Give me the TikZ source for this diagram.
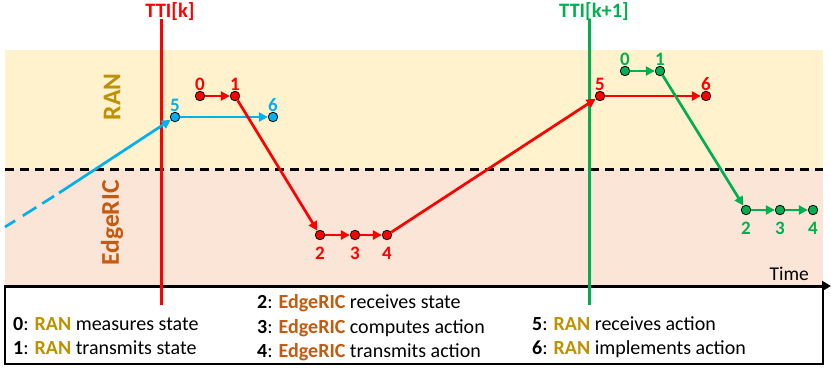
\documentclass[tikz,border=0pt]{standalone}
\usepackage{fontspec}
\setmainfont{Carlito}
\usetikzlibrary{arrows.meta}
\definecolor{ranc}{HTML}{BF9000}
\definecolor{ricc}{HTML}{C55A11}
\definecolor{redc}{HTML}{FF0000}
\definecolor{bluec}{HTML}{00B0F0}
\definecolor{greenc}{HTML}{00B050}
\definecolor{ranbg}{HTML}{FFF2CC}
\definecolor{ricbg}{HTML}{FBE5D6}
\begin{document}
\begin{tikzpicture}[x=1pt,y=-1pt,
  dot/.style={circle,draw=black,line width=0.8pt,fill=#1,inner sep=0pt,minimum size=9.5pt},
  num/.style={font=\fontsize{19}{19}\selectfont\bfseries,text=#1,inner sep=0.5pt},
  flow/.style={draw=#1,line width=2.7pt,-{Triangle[length=9pt,width=9pt]}},
  ttiline/.style={draw=#1,line width=3pt},
  ttilabel/.style={font=\fontsize{20.5}{20.5}\selectfont\bfseries,text=#1,inner sep=0pt,anchor=base},
  band/.style={font=\fontsize{25.5}{25.5}\selectfont\bfseries,text=#1,rotate=90,inner sep=0pt},
  legend/.style={font=\fontsize{20}{20}\selectfont,anchor=base west,inner sep=0pt}
]
\useasboundingbox (0,0) rectangle (831,372);
% bands
\fill[ranbg] (5,50) rectangle (823,169);
\fill[ricbg] (5,169) rectangle (823,286);
\draw[black,line width=3pt,dash pattern=on 9pt off 6pt] (5,169) -- (823,169);
\node[band=ranc] (ran) at (112,97) {RAN};
\node[band=ricc] (ric) at (112,223) {EdgeRIC};
% legend box
\draw[black,line width=2pt,fill=white] (5,286) rectangle (823,364);
\coordinate (ax0) at (4,286);
\coordinate (ax1) at (831,286);
\draw[black,line width=3pt,-{Triangle[length=9pt,width=10pt]}] (ax0) -- (ax1);
\node[font=\fontsize{19.5}{19.5}\selectfont,anchor=base east,inner sep=0pt] (time) at (809,280) {Time};
% TTI lines
\coordinate (tk0) at (161,19);
\coordinate (tk1) at (161,305);
\draw[ttiline=redc] (tk0) -- (tk1);
\node[ttilabel=redc] (tkl) at (170,17) {TTI[k]};
\coordinate (tn0) at (589,19);
\coordinate (tn1) at (589,305);
\draw[ttiline=greenc] (tn0) -- (tn1);
\node[ttilabel=greenc] (tnl) at (594,17) {TTI[k+1]};
% blue (previous) chain
\coordinate (bs) at (5,227);
\coordinate (bm) at (59,193);
\node[dot=bluec,label={[num=bluec]above:5}] (b5) at (175,117) {};
\node[dot=bluec,label={[num=bluec]above:6}] (b6) at (273,117) {};
\draw[bluec,line width=2.7pt,dash pattern=on 12pt off 9pt on 16pt off 7pt on 14pt off 8pt] (bs) -- (bm);
\draw[flow=bluec] (bm) -- (b5);
\draw[flow=bluec] (b5) -- (b6);
% red chain
\node[dot=redc,label={[num=redc]above:0}] (r0) at (200,96) {};
\node[dot=redc,label={[num=redc]above:1}] (r1) at (235,96) {};
\node[dot=redc,label={[num=redc,label distance=6pt]below:2}] (r2) at (320,235) {};
\node[dot=redc,label={[num=redc,label distance=6pt]below:3}] (r3) at (355,235) {};
\node[dot=redc,label={[num=redc,label distance=6pt]below:4}] (r4) at (387,235) {};
\node[dot=redc,label={[num=redc]above:5}] (r5) at (600,96) {};
\node[dot=redc,label={[num=redc]above:6}] (r6) at (706,96) {};
\draw[flow=redc] (r0) -- (r1);
\draw[flow=redc] (r1) -- (r2);
\draw[flow=redc] (r2) -- (r3);
\draw[flow=redc] (r3) -- (r4);
\draw[flow=redc] (r4) -- (r5);
\draw[flow=redc] (r5) -- (r6);
% green chain
\node[dot=greenc,label={[num=greenc]above:0}] (g0) at (625,71) {};
\node[dot=greenc,label={[num=greenc]above:1}] (g1) at (660,71) {};
\node[dot=greenc,label={[num=greenc,label distance=6pt]below:2}] (g2) at (746,210) {};
\node[dot=greenc,label={[num=greenc,label distance=6pt]below:3}] (g3) at (780,210) {};
\node[dot=greenc,label={[num=greenc,label distance=6pt]below:4}] (g4) at (813,210) {};
\draw[flow=greenc] (g0) -- (g1);
\draw[flow=greenc] (g1) -- (g2);
\draw[flow=greenc] (g2) -- (g3);
\draw[flow=greenc] (g3) -- (g4);
% legend text
\node[legend] (l0) at (13,330) {\textbf{0}: \textcolor{ranc}{\textbf{RAN}} measures state};
\node[legend] (l1) at (13,354) {\textbf{1}: \textcolor{ranc}{\textbf{RAN}} transmits state};
\node[legend] (l2) at (257,308) {\textbf{2}: \textcolor{ricc}{\textbf{EdgeRIC}} receives state};
\node[legend] (l3) at (257,333) {\textbf{3}: \textcolor{ricc}{\textbf{EdgeRIC}} computes action};
\node[legend] (l4) at (257,357) {\textbf{4}: \textcolor{ricc}{\textbf{EdgeRIC}} transmits action};
\node[legend] (l5) at (532,330) {\textbf{5}: \textcolor{ranc}{\textbf{RAN}} receives action};
\node[legend] (l6) at (532,354) {\textbf{6}: \textcolor{ranc}{\textbf{RAN}} implements action};
\end{tikzpicture}
\end{document}
